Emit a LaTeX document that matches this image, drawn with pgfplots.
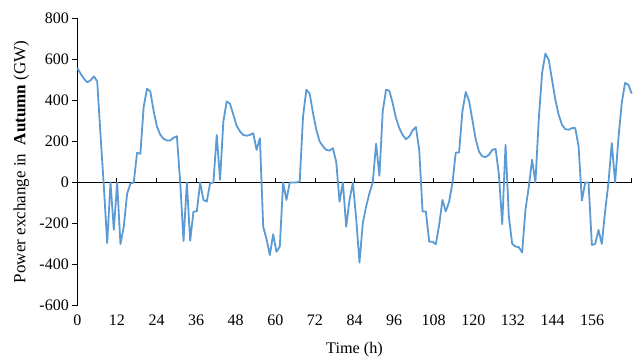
\documentclass[border=0pt]{standalone}
\usepackage{pgfplots}
\usepackage{pgfplotstable}
\pgfplotsset{compat=1.18}
\usepackage{fontspec}
\setmainfont{Liberation Serif}
\definecolor{lineblue}{RGB}{91,155,213}

\pgfplotstableread{
y
558
530
506
488
498
517
493
230
-20
-295
0
-230
0
-300
-215
-55
-5
0
145
140
370
457
443
348
272
233
213
205
205
218
226
0
-285
0
-283
-141
-141
0
-85
-93
-3
0
232
13
298
395
384
330
276
249
232
228
232
240
159
216
-215
-276
-353
-252
-337
-312
0
-85
0
0
0
5
322
452
433
338
257
200
176
159
156
167
100
-93
0
-215
-85
0
-174
-390
-198
-117
-52
0
189
33
346
452
447
387
314
265
232
211
224
254
270
159
-141
-141
-288
-288
-301
-207
-85
-141
-93
-3
146
146
346
441
398
306
211
151
127
124
135
159
164
40
-203
184
-166
-299
-312
-315
-341
-133
-20
111
0
306
533
628
598
501
403
330
281
260
257
265
265
176
-88
0
0
-304
-299
-231
-299
-140
0
192
0
216
387
485
476
433
}\autumndata

\begin{document}
\begin{tikzpicture}
\useasboundingbox (-77.3bp,-53.3bp) rectangle (557.7bp,305.7bp);
\begin{axis}[
  scale only axis,
  width=554.4bp, height=287.4bp,
  xmin=0, xmax=168, ymin=-600, ymax=800,
  axis y line*=left,
  axis x line*=middle,
  hide obscured x ticks=false,
  hide obscured y ticks=false,
  xtick={0,12,...,168},
  xticklabels={0,12,24,36,48,60,72,84,96,108,120,132,144,156,{}},
  ytick={-600,-400,...,800},
  yticklabels={-600,-400,-200,0,200,400,600,800},
  ytick align=outside,
  xtick align=inside,
  major tick length=5bp,
  tick style={black, line width=0.8bp},
  axis line style={black, line width=0.8bp},
  xticklabel shift=129bp,
  ticklabel style={font=\fontsize{16bp}{19bp}\selectfont},
  xlabel={Time (h)},
  xlabel style={at={(axis description cs:0.5,0)}, anchor=center, yshift=-44.3bp, font=\fontsize{16.2bp}{19bp}\selectfont},
  ylabel={Power exchange in \ \textbf{Autumn} (GW)},
  ylabel style={at={(axis description cs:-0.101,0.5)}, anchor=center, font=\fontsize{17bp}{20bp}\selectfont},
  clip=false,
]
\addplot[lineblue, line width=1.8bp, line join=round] table[x expr=\coordindex*168/167, y index=0] {\autumndata};
\end{axis}
\end{tikzpicture}
\end{document}
